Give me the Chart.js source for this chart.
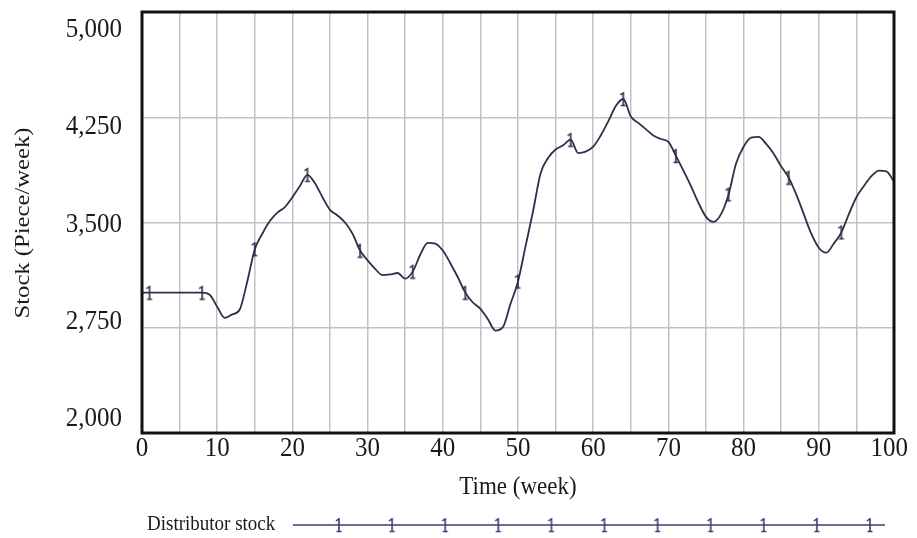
<!DOCTYPE html>
<html>
<head>
<meta charset="utf-8">
<script src="https://cdn.jsdelivr.net/npm/chart.js@4/dist/chart.umd.min.js"></script>
<style>
  html, body { margin: 0; padding: 0; background: #ffffff; }
  #wrap { width: 917px; height: 538px; }
</style>
</head>
<body>
<div id="wrap"><canvas id="chart" width="917" height="538"></canvas></div>
<script>
// Simulated distributor stock over 100 weeks
const weeks = [
  0, 1, 8, 9, 10, 11, 12, 13, 14, 15, 16, 17, 18, 19, 20,
  21, 22, 23, 24, 25, 26, 27, 28, 29, 30, 31, 32, 33, 34, 35,
  36, 37, 38, 39, 40, 41, 42, 43, 44, 45, 46, 47, 48, 49, 50,
  51, 52, 53, 54, 55, 56, 57, 58, 59, 60, 61, 62, 63, 64, 65,
  66, 67, 68, 69, 70, 71, 72, 73, 74, 75, 76, 77, 78, 79, 80,
  81, 82, 83, 84, 85, 86, 87, 88, 89, 90, 91, 92, 93, 94, 95,
  96, 97, 98, 99, 100
];
const stock = [
  3000, 3000, 3000, 2985, 2900, 2820, 2845, 2880, 3080, 3310, 3420, 3510, 3570, 3610, 3680,
  3760, 3840, 3780, 3680, 3590, 3550, 3500, 3420, 3300, 3230, 3170, 3125, 3130, 3140, 3100,
  3150, 3270, 3355, 3350, 3300, 3210, 3110, 3000, 2930, 2885, 2810, 2730, 2755, 2920, 3080,
  3330, 3580, 3850, 3960, 4020, 4050, 4090, 3995, 4005, 4040, 4120, 4220, 4330, 4380, 4255,
  4210, 4165, 4120, 4095, 4075, 3975, 3870, 3760, 3640, 3540, 3505, 3560, 3700, 3920, 4040,
  4105, 4110, 4060, 3990, 3900, 3820, 3700, 3560, 3420, 3320, 3285, 3350, 3430, 3560, 3680,
  3760, 3830, 3870, 3865, 3790
];
// weeks that carry the series marker "1"
const markerWeeks = [1, 8, 15, 22, 29, 36, 43, 50, 57, 64, 71, 78, 86, 93];

const xTickValues = [0, 10, 20, 30, 40, 50, 60, 70, 80, 90, 100];
const yTickValues = [2000, 2750, 3500, 4250, 5000];
const seriesLabel = 'Distributor stock';
const xTitle = 'Time (week)';
const yTitle = 'Stock (Piece/week)';

const LINE_COLOR = '#2f2f4c';
const KEY_COLOR = '#3c3c74';
const GRID_COLOR = '#c2c2c2';
const TEXT_COLOR = '#1a1a1a';
const FONT = '"Liberation Serif", "Times New Roman", serif';
const STRETCH = 1.12; // glyphs are a little taller than wide

// small "1" glyph used as the series marker
function makeGlyph(color) {
  const c = document.createElement('canvas');
  c.width = 10; c.height = 16;
  const g = c.getContext('2d');
  g.strokeStyle = color;
  g.lineWidth = 1.6;
  g.beginPath();
  g.moveTo(5, 1); g.lineTo(5, 15);
  g.moveTo(5, 1.5); g.lineTo(2, 4);
  g.moveTo(2.5, 14.5); g.lineTo(7.5, 14.5);
  g.stroke();
  return c;
}
const glyph = makeGlyph(LINE_COLOR);
const keyGlyph = makeGlyph(KEY_COLOR);

function drawText(ctx, str, x, y, size, align, rotated) {
  ctx.save();
  ctx.translate(x, y);
  ctx.scale(1, STRETCH);
  if (rotated) ctx.rotate(-Math.PI / 2);
  ctx.font = size + 'px ' + FONT;
  ctx.fillStyle = TEXT_COLOR;
  ctx.textAlign = align;
  ctx.textBaseline = 'middle';
  ctx.fillText(str, 0, 0);
  ctx.restore();
}

// frame, axis labels, titles and the series key
const decorations = {
  id: 'decorations',
  afterDraw(chart) {
    const ctx = chart.ctx;
    const a = chart.chartArea;
    const xs = chart.scales.x;
    const ys = chart.scales.y;

    ctx.save();
    ctx.strokeStyle = '#111111';
    ctx.lineWidth = 3;
    ctx.strokeRect(a.left, a.top, a.right - a.left, a.bottom - a.top);
    ctx.restore();

    // y labels spread between the top and bottom of the frame
    const h = a.bottom - a.top;
    yTickValues.forEach(v => {
      const p = ys.getPixelForValue(v);
      const cy = a.top + 17.5 + (p - a.top) * ((h - 31.5) / h);
      drawText(ctx, v.toLocaleString('en-US'), a.left - 20, cy, 25, 'right', false);
    });

    // x labels
    ctx.save();
    ctx.font = '25px ' + FONT;
    xTickValues.forEach(v => {
      const p = xs.getPixelForValue(v);
      const w = ctx.measureText(String(v)).width;
      const cx = Math.min(p, a.right + 14 - w / 2);
      drawText(ctx, String(v), cx, a.bottom + 16, 25, 'center', false);
    });
    ctx.restore();

    drawText(ctx, xTitle, 518, 487, 23, 'center', false);
    drawText(ctx, yTitle, 23, 223, 22, 'center', true);

    // series key
    drawText(ctx, seriesLabel, 147, 524, 19, 'left', false);
    ctx.save();
    ctx.strokeStyle = KEY_COLOR;
    ctx.lineWidth = 1.6;
    ctx.beginPath();
    ctx.moveTo(293, 525);
    ctx.lineTo(885, 525);
    ctx.stroke();
    for (let k = 0; k < 11; k++) {
      const mx = 339 + k * 53.1;
      ctx.drawImage(keyGlyph, mx - keyGlyph.width / 2, 525 - keyGlyph.height / 2);
    }
    ctx.restore();
  }
};

new Chart(document.getElementById('chart'), {
  type: 'line',
  data: {
    datasets: [{
      label: seriesLabel,
      data: weeks.map((w, i) => ({ x: w, y: stock[i] })),
      borderColor: LINE_COLOR,
      backgroundColor: LINE_COLOR,
      borderWidth: 1.8,
      cubicInterpolationMode: 'monotone',
      fill: false,
      pointStyle: glyph,
      pointRadius: c => (c.raw && markerWeeks.includes(c.raw.x)) ? 5 : 0,
      pointHoverRadius: 0,
      clip: false
    }]
  },
  options: {
    responsive: false,
    animation: false,
    devicePixelRatio: 1,
    layout: { padding: { top: 12, right: 23, left: 0, bottom: 0 } },
    plugins: {
      legend: { display: false },
      tooltip: { enabled: false },
      title: { display: false }
    },
    events: [],
    scales: {
      x: {
        type: 'linear',
        min: 0,
        max: 100,
        ticks: { stepSize: 5, display: false },
        grid: { color: GRID_COLOR, lineWidth: 1.5, drawTicks: false },
        border: { display: false },
        afterFit: s => { s.height = 105; }
      },
      y: {
        type: 'linear',
        min: 2000,
        max: 5000,
        ticks: { stepSize: 750, display: false },
        grid: { color: GRID_COLOR, lineWidth: 1.5, drawTicks: false },
        border: { display: false },
        afterFit: s => { s.width = 142; }
      }
    }
  },
  plugins: [decorations]
});
</script>
</body>
</html>
